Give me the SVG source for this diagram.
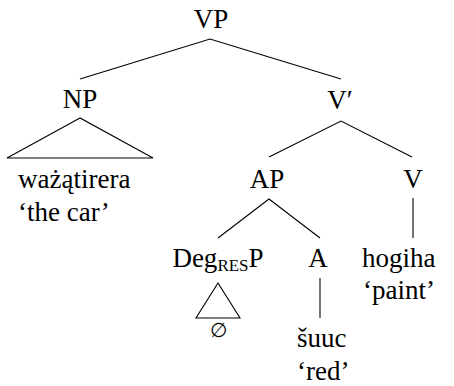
<svg xmlns="http://www.w3.org/2000/svg" width="454" height="386" viewBox="0 0 454 386">
<style>
text{font-family:'Liberation Serif','DejaVu Serif',serif;font-size:27px;fill:#000}
.m{text-anchor:middle}
.sub{font-size:17px}
.e{font-size:20px}
#edges path,#edges polygon{fill:none;stroke:#000;stroke-width:1.1}
</style>
<rect width="454" height="386" fill="#fff"/>
<g id="edges">
<path d="M80,79 L210,39 L341,79"/>
<polygon points="80,118 7,158 153,158"/>
<path d="M269,157 L341,121 L412,157"/>
<path d="M218,238 L269,199 L320,238"/>
<path d="M413,198 V238"/>
<polygon points="218,283 196,318 240,318"/>
<path d="M320,278 V318"/>
</g>
<g id="VP"><text class="m" x="211" y="28">VP</text></g>
<g id="NP"><text class="m" x="80" y="108">NP</text></g>
<g id="Vbar"><text class="m" x="340" y="109">V′</text></g>
<g id="NPleaf"><text x="18" y="188">ważątirera</text><text x="18" y="221">‘the car’</text></g>
<g id="AP"><text class="m" x="267" y="188">AP</text></g>
<g id="V"><text class="m" x="413" y="188">V</text></g>
<g id="DegP"><text class="m" x="218" y="267">Deg<tspan class="sub" dy="4">RES</tspan><tspan dy="-4">P</tspan></text></g>
<g id="DegLeaf"><text class="m e" x="218" y="337">∅</text></g>
<g id="A"><text class="m" x="318" y="267">A</text></g>
<g id="ALeaf"><text x="297" y="347">šuuc</text><text x="297" y="380">‘red’</text></g>
<g id="VLeaf"><text x="362" y="267">hogiha</text><text x="363" y="299">‘paint’</text></g>
</svg>
